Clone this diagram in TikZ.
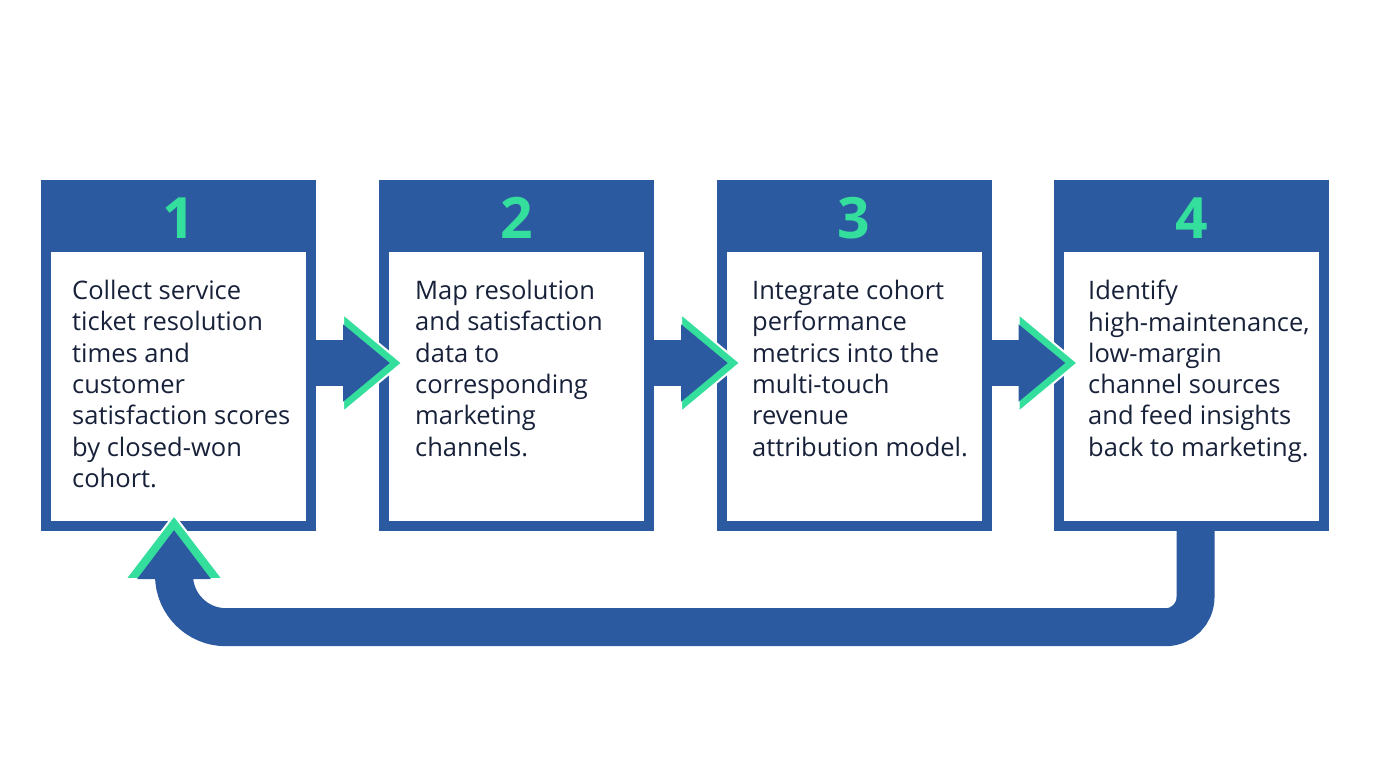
\documentclass[tikz,border=0pt]{standalone}
\usepackage{fontspec}
\setmainfont{Open Sans}
\usepackage{tikz}

\definecolor{stepblue}{HTML}{2C5AA0}
\definecolor{stepgreen}{HTML}{34DE9C}
\definecolor{stepink}{HTML}{18213A}

\begin{document}
\begin{tikzpicture}[
  x=1pt, y=-1pt,
  stepframe/.style={
    rectangle,
    fill=stepblue,
    minimum width=275pt,
    minimum height=351pt,
    inner sep=0pt
  },
  stepinner/.style={
    rectangle,
    fill=white,
    minimum width=255pt,
    minimum height=269pt,
    inner sep=0pt
  },
  stepnum/.style={
    text=stepgreen,
    inner sep=0pt,
    font=\fontsize{57}{60}\selectfont\bfseries
  },
  steptext/.style={
    anchor=north west,
    align=left,
    inner sep=0pt,
    text=stepink,
    font=\fontsize{25.5}{31.3}\selectfont
  },
  flowshaft/.style={
    draw=stepblue,
    line width=46pt
  },
  headedge/.style={
    fill=stepgreen,
    draw=white,
    line width=2pt
  },
  headcore/.style={
    fill=stepblue
  }
]
  \fill[white] (0,0) rectangle (1376,768);
  \useasboundingbox (0,0) rectangle (1376,768);

  \node[stepframe] (b1) at (178.5,355.5) {};
  \node[stepframe] (b2) at (516.5,355.5) {};
  \node[stepframe] (b3) at (854,355.5) {};
  \node[stepframe] (b4) at (1191.5,355.5) {};

  \node[stepinner] (w1) at (178.5,386.5) {};
  \node[stepinner] (w2) at (516.5,386.5) {};
  \node[stepinner] (w3) at (854,386.5) {};
  \node[stepinner] (w4) at (1191.5,386.5) {};

  \node[stepnum] (n1) at (178.5,218) {1};
  \node[stepnum] (n2) at (516.5,218) {2};
  \node[stepnum] (n3) at (854,218) {3};
  \node[stepnum] (n4) at (1191.5,218) {4};

  \node[steptext] (t1) at (72,280) {Collect service\\ticket resolution\\times and\\customer\\satisfaction scores\\by closed-won\\cohort.};
  \node[steptext] (t2) at (415,280) {Map resolution\\and satisfaction\\data to\\corresponding\\marketing\\channels.};
  \node[steptext] (t3) at (752,280) {Integrate cohort\\performance\\metrics into the\\multi-touch\\revenue\\attribution model.};
  \node[steptext] (t4) at (1088,280) {Identify\\high-maintenance,\\low-margin\\channel sources\\and feed insights\\back to marketing.};

  % arrows between the steps
  \coordinate (a1) at ([yshift=-7.5pt]b1.east);
  \coordinate (a2) at ([yshift=-7.5pt]b2.east);
  \coordinate (a3) at ([yshift=-7.5pt]b3.east);

  \filldraw[headedge] ([shift={(27,-49)}]a1) -- ++(59,49) -- ++(-59,49) -- cycle;
  \draw[flowshaft] (a1) -- ++(28,0);
  \fill[headcore] ([shift={(27,-38.6)}]a1) -- ++(46.5,38.6) -- ++(-46.5,38.6) -- cycle;

  \filldraw[headedge] ([shift={(27,-49)}]a2) -- ++(59,49) -- ++(-59,49) -- cycle;
  \draw[flowshaft] (a2) -- ++(28,0);
  \fill[headcore] ([shift={(27,-38.6)}]a2) -- ++(46.5,38.6) -- ++(-46.5,38.6) -- cycle;

  \filldraw[headedge] ([shift={(27,-49)}]a3) -- ++(59,49) -- ++(-59,49) -- cycle;
  \draw[flowshaft] (a3) -- ++(28,0);
  \fill[headcore] ([shift={(27,-38.6)}]a3) -- ++(46.5,38.6) -- ++(-46.5,38.6) -- cycle;

  % loop back from step 4 to step 1
  \coordinate (r4) at ([xshift=4pt]b4.south);
  \coordinate (r1) at ([shift={(-4.5,48)}]b1.south);
  \coordinate (rb) at ([yshift=-48pt]r1);

  \filldraw[headedge] ([shift={(-49,0)}]r1) -- ++(49,-64) -- ++(49,64) -- cycle;
  \draw[flowshaft, line width=38pt, rounded corners=30pt] (r4) -- (r4 |- rb) [rounded corners=52pt] -- (rb) -- (r1);
  \fill[headcore] ([shift={(-37,0)}]r1) -- ++(37,-49) -- ++(37,49) -- cycle;
\end{tikzpicture}
\end{document}
